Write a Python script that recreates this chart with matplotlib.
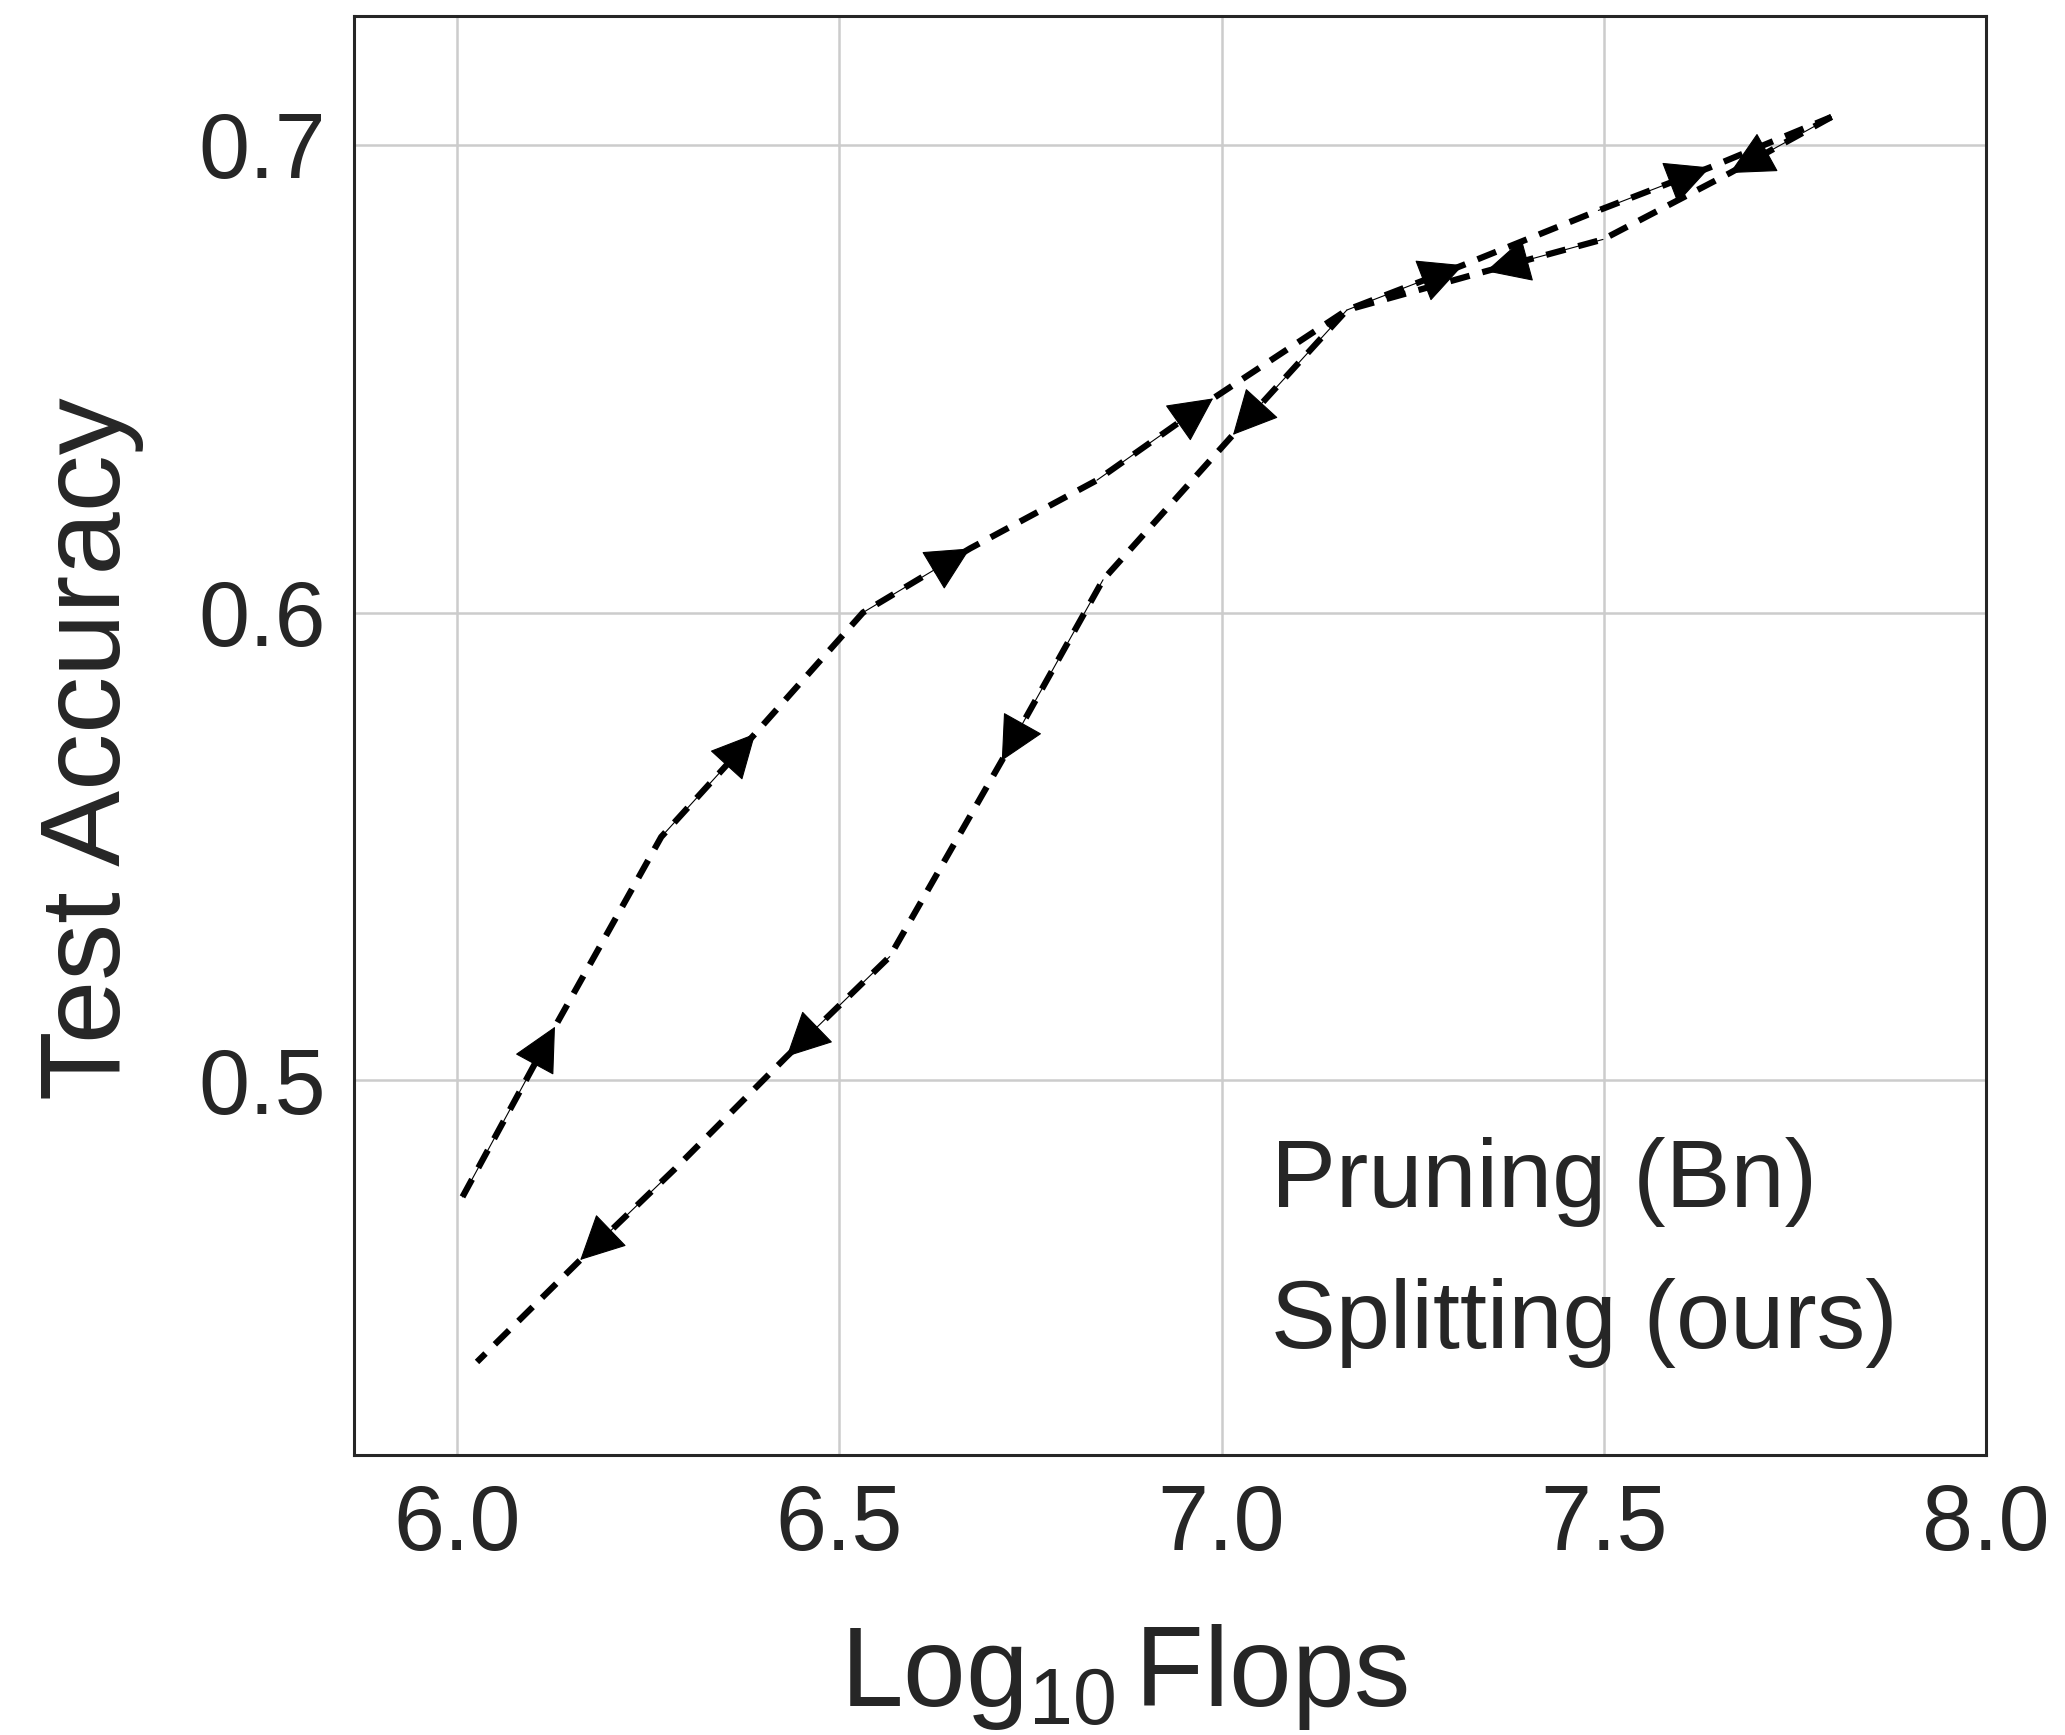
import matplotlib
matplotlib.use("Agg")
import matplotlib.pyplot as plt

# ---- data ----
split_x = [6.007, 6.128, 6.267, 6.390, 6.531, 6.671, 6.837, 6.989, 7.164, 7.316, 7.493, 7.639, 7.798]
split_y = [0.475, 0.5114, 0.552, 0.5741, 0.600, 0.6137, 0.6283, 0.6458, 0.6647, 0.6743, 0.6860, 0.6952, 0.706]

prune_x = [7.798, 7.665, 7.499, 7.346, 7.164, 7.015, 6.845, 6.7125, 6.566, 6.431, 6.285, 6.161, 6.026]
prune_y = [0.706, 0.694, 0.6798, 0.6730, 0.6647, 0.638, 0.607, 0.5683, 0.5264, 0.505, 0.481, 0.4615, 0.4397]

series_labels = ["Pruning (Bn)", "Splitting (ours)"]
xticks = [6.0, 6.5, 7.0, 7.5, 8.0]
xtick_labels = ["6.0", "6.5", "7.0", "7.5", "8.0"]
yticks = [0.5, 0.6, 0.7]
ytick_labels = ["0.5", "0.6", "0.7"]
xlabel = r"Log$_{10}\,$Flops"
ylabel = "Test Accuracy"

# ---- style ----
plt.rcParams["font.family"] = ["Liberation Sans", "DejaVu Sans"]
plt.rcParams["mathtext.fontset"] = "custom"
plt.rcParams["mathtext.rm"] = "Liberation Sans"
plt.rcParams["mathtext.it"] = "Liberation Sans:italic"
plt.rcParams["mathtext.bf"] = "Liberation Sans:bold"
plt.rcParams["mathtext.default"] = "regular"

TXT = "#262626"

fig = plt.figure(figsize=(20.65, 17.35), dpi=100)
ax = fig.add_axes([0.1714, 0.1614, 0.7903, 0.8294])

dash = (0, (3.2, 2.1))
line_p, = ax.plot(prune_x, prune_y, color="black", lw=4.5, linestyle=dash,
                  label=series_labels[0], zorder=3)
line_s, = ax.plot(split_x, split_y, color="black", lw=4.5, linestyle=dash,
                  label=series_labels[1], zorder=3)


def add_arrows(xs, ys):
    for i in range(0, len(xs) - 1, 2):
        ax.annotate("", xy=(xs[i + 1], ys[i + 1]), xytext=(xs[i], ys[i]),
                    arrowprops=dict(arrowstyle="-|>,head_length=0.4,head_width=0.2",
                                    color="black", lw=0.8, shrinkA=0, shrinkB=0,
                                    mutation_scale=74),
                    zorder=4)


add_arrows(prune_x, prune_y)
add_arrows(split_x, split_y)

ax.set_xlim(5.865, 8.0)
ax.set_ylim(0.4198, 0.7276)
ax.set_xticks(xticks)
ax.set_xticklabels(xtick_labels)
ax.set_yticks(yticks)
ax.set_yticklabels(ytick_labels)

ax.grid(True, color="#cccccc", lw=1.8)
ax.set_axisbelow(True)
for sp in ax.spines.values():
    sp.set_color(TXT)
    sp.set_linewidth(2.2)

ax.tick_params(length=0, pad=20, labelsize=66, colors=TXT)
ax.set_xlabel(xlabel, fontsize=81, color=TXT, labelpad=38)
ax.xaxis.label.set_x(0.472)
ax.set_ylabel(ylabel, fontsize=82, color=TXT, labelpad=39)
ax.yaxis.label.set_y(0.491)

ax.legend(handles=[line_p, line_s], labels=series_labels, loc="upper left",
          bbox_to_anchor=(0.562, 0.221), frameon=False, fontsize=70,
          handlelength=0, handletextpad=0, borderpad=0, borderaxespad=0,
          labelspacing=0.53, labelcolor=TXT)

fig.savefig("out.png", dpi=100)
